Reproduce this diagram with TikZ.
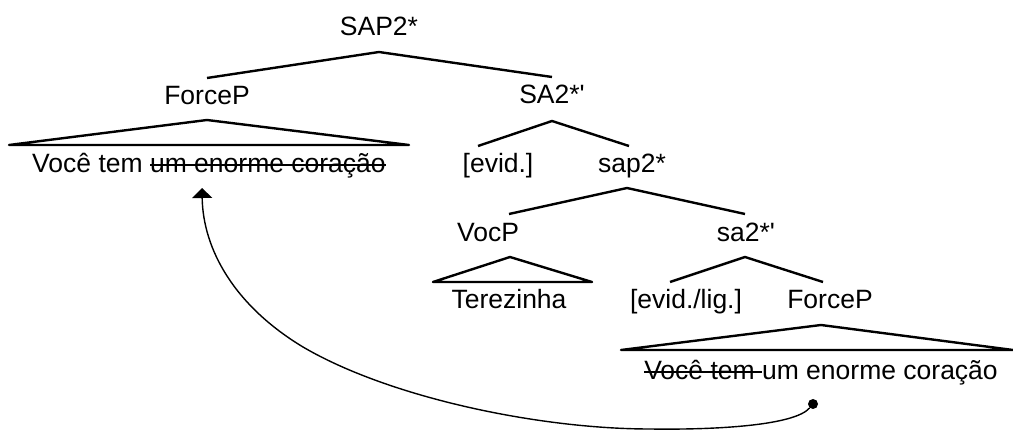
\documentclass[tikz,border=0pt]{standalone}
\usepackage{fontspec}
\setmainfont{Liberation Sans}
\usetikzlibrary{arrows.meta}
% struck-through (deleted) copy of a phrase
\newcommand\strikeword[1]{\setbox0\hbox{#1}\rlap{\rule[0.26em]{\wd0}{1.8pt}}\box0}
\begin{document}
\begin{tikzpicture}[x=1pt,y=-1pt,
  lbl/.style={anchor=base,inner sep=0pt,font=\fontsize{26.5}{30}\selectfont},
  branch/.style={line width=2.4pt,line join=round},
  roof/.style={line width=2.4pt,line join=round},
  movement/.style={line width=1.4pt,-{Triangle[length=10pt,width=20pt]}},
  trace/.style={circle,fill=black,inner sep=0pt,minimum size=10pt}]
\useasboundingbox (0,0) rectangle (1013,430);

% labels
\node[lbl] (sap)    at (379,36)  {SAP2*};
\node[lbl] (forceA) at (207,105) {ForceP};
\node[lbl] (sa)     at (552,104) {SA2*\textquotesingle};
\node[lbl] (evid)   at (498,173) {[evid.]};
\node[lbl] (sapp)   at (632,173) {sap2*};
\node[lbl] (voc)    at (488,242) {VocP};
\node[lbl] (saa)    at (746,242) {sa2*\textquotesingle};
\node[lbl] (tere)   at (509,309) {Terezinha};
\node[lbl] (evlig)  at (686,309) {[evid./lig.]};
\node[lbl] (forceB) at (830,309) {ForceP};
\node[lbl] (sentA)  at (209,173) {Você tem \strikeword{um enorme coração}};
\node[lbl] (sentB)  at (821,380) {\strikeword{Você tem }um enorme coração};

% branches
\draw[branch] ([yshift=27pt]forceA.base) -- ([yshift=-16pt]sap.base) -- ([yshift=27pt]sa.base);
\draw[branch] ([xshift=-20pt,yshift=27pt]evid.base) -- ([yshift=-17pt]sa.base) -- ([xshift=-3pt,yshift=27pt]sapp.base);
\draw[branch] ([xshift=21pt,yshift=28pt]voc.base) -- ([xshift=-5pt,yshift=-15pt]sapp.base) -- ([xshift=-1pt,yshift=28pt]saa.base);
\draw[branch] ([xshift=-16pt,yshift=27pt]evlig.base) -- ([xshift=-1pt,yshift=-15pt]saa.base) -- ([xshift=-7pt,yshift=27pt]forceB.base);

% roofs
\draw[roof] ([yshift=-15pt]forceA.base) -- ([xshift=-200pt,yshift=28pt]sentA.base) -- ([xshift=200pt,yshift=28pt]sentA.base) -- cycle;
\draw[roof] ([xshift=22pt,yshift=-15pt]voc.base) -- ([xshift=-76pt,yshift=27pt]tere.base) -- ([xshift=83pt,yshift=27pt]tere.base) -- cycle;
\draw[roof] ([xshift=-9pt,yshift=-16pt]forceB.base) -- ([xshift=-200pt,yshift=30pt]sentB.base) -- ([xshift=192pt,yshift=30pt]sentB.base) -- cycle;

% movement
\node[trace] (copy) at (813,404) {};
\coordinate (landing) at (202,188);
\draw[movement] (copy) .. controls (795,425) and (720,430) .. (650,429)
  .. controls (540,429) and (390,398) .. (303,347)
  .. controls (235,306) and (203,250) .. (landing);
\end{tikzpicture}
\end{document}
